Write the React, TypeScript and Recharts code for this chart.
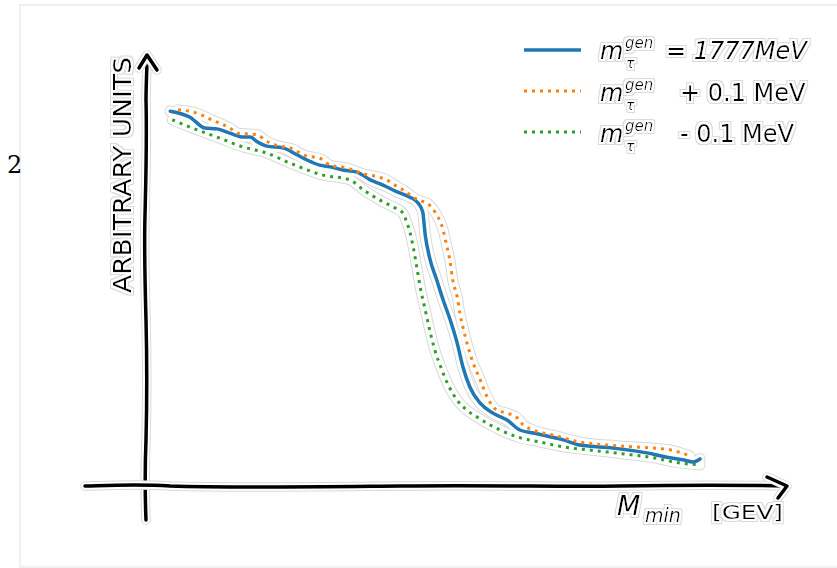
import React from "react";
import { LineChart, Line, XAxis, YAxis, Customized } from "recharts";

// M_min (arbitrary units, 0-100) vs. distribution height (arbitrary units, 0-100)
const NOMINAL: [number, number][] = [
  [3.8, 87.0], [6.9, 85.6], [9.2, 83.1], [11.1, 82.9], [13.1, 81.9], [15.2, 81.0],
  [16.3, 81.0], [17.4, 79.9], [18.9, 78.9], [21.4, 78.5], [23.6, 76.9], [25.2, 75.7],
  [27.2, 74.5], [28.8, 74.1], [30.8, 73.4], [33.0, 72.9], [35.1, 71.1], [37.1, 69.9],
  [39.3, 68.3], [41.3, 67.1], [42.6, 65.7], [43.3, 63.7], [43.7, 58.3], [44.4, 53.0],
  [45.5, 47.9], [46.5, 43.3], [47.6, 38.7], [48.7, 33.3], [49.6, 27.8], [50.7, 23.1],
  [52.3, 19.4], [54.3, 17.1], [56.5, 15.5], [58.5, 13.2], [60.6, 12.5], [65.3, 10.9],
  [67.9, 9.7], [73.1, 9.0], [78.4, 7.9], [81.5, 6.9], [84.0, 6.3], [85.6, 5.8], [86.7, 6.5],
];

const PLUS: [number, number][] = [
  [5.0, 87.3], [7.4, 86.8], [10.3, 85.0], [13.1, 83.1], [14.4, 81.9], [16.3, 81.7],
  [17.5, 81.5], [18.6, 80.3], [20.2, 79.2], [23.0, 78.2], [24.6, 76.9], [27.5, 75.9],
  [28.8, 74.5], [31.6, 73.8], [33.5, 72.7], [36.2, 71.8], [37.7, 71.1], [38.7, 70.1],
  [40.2, 68.8], [42.6, 66.4], [44.0, 65.7], [45.2, 63.7], [46.5, 59.5], [47.1, 55.6],
  [47.6, 52.1], [48.0, 47.9], [48.7, 44.0], [49.1, 40.3], [49.6, 37.0], [50.4, 32.4],
  [51.2, 28.7], [52.3, 24.8], [53.4, 20.8], [54.9, 17.8], [56.5, 17.1], [58.1, 16.0],
  [59.0, 14.4], [60.6, 13.2], [62.1, 12.5], [63.7, 12.0], [67.9, 10.4], [74.2, 9.5],
  [82.0, 8.6], [85.1, 7.2],
];

const MINUS: [number, number][] = [
  [4.1, 85.0], [6.9, 83.3], [11.1, 81.0], [15.2, 78.7], [18.9, 77.3], [22.5, 75.0],
  [27.7, 72.2], [31.9, 71.1], [34.0, 68.8], [37.1, 66.0], [39.0, 64.6], [40.2, 63.4],
  [40.8, 61.3], [41.3, 59.0], [41.9, 54.9], [42.4, 50.7], [43.0, 45.6], [43.7, 41.0],
  [44.4, 36.3], [45.2, 31.7], [46.2, 27.5], [47.3, 23.6], [48.7, 20.1], [50.2, 17.8],
  [51.8, 16.2], [53.8, 14.4], [55.4, 13.2], [58.1, 11.6], [61.7, 10.4], [65.3, 9.3],
  [71.0, 8.3], [76.2, 7.4], [79.7, 6.7], [82.5, 5.8], [86.7, 5.1],
];

const LEGEND_TAILS = ["= 1777MeV", "+ 0.1 MeV", "- 0.1 MeV"];

const toRows = (pts: [number, number][]) => pts.map(([x, y]) => ({ x, y }));

const SERIES = [
  { key: "nominal", data: toRows(NOMINAL), color: "#1f77b4", dash: undefined, width: 3.5, italicTail: true },
  { key: "plus", data: toRows(PLUS), color: "#ff7f0e", dash: "3 5", width: 3, italicTail: false },
  { key: "minus", data: toRows(MINUS), color: "#2ca02c", dash: "3 5", width: 3, italicTail: false },
];

const FONT = "'DejaVu Sans', sans-serif";

// white halo with a faint grey rim, xkcd style
function HaloDefs() {
  return (
    <defs>
      <filter id="halo" x="-30%" y="-60%" width="160%" height="220%">
        <feMorphology in="SourceAlpha" operator="dilate" radius={3} result="outer" />
        <feFlood floodColor="#d9d9d9" />
        <feComposite in2="outer" operator="in" result="rim" />
        <feMorphology in="SourceAlpha" operator="dilate" radius={2.2} result="inner" />
        <feFlood floodColor="#ffffff" />
        <feComposite in2="inner" operator="in" result="white" />
        <feMerge>
          <feMergeNode in="rim" />
          <feMergeNode in="white" />
          <feMergeNode in="SourceGraphic" />
        </feMerge>
      </filter>
    </defs>
  );
}

function HaloPath({ d, width = 3.5 }: { d: string; width?: number }) {
  return (
    <g fill="none" strokeLinecap="round" strokeLinejoin="round">
      <path d={d} stroke="#d9d9d9" strokeWidth={width + 6} />
      <path d={d} stroke="#fff" strokeWidth={width + 4} />
      <path d={d} stroke="#000" strokeWidth={width} />
    </g>
  );
}

function Decor() {
  // hand-drawn spines with arrow heads
  const yAxis = "M146,520 C145,495 145,465 146,440 C147,400 147,360 146,320 C145,280 144,250 145,215 C146,175 147,140 146,100 C146,85 147,70 147,57";
  const yArrow = "M139,68 L147,55 L157,70";
  const xAxis = "M85,486 C120,485 140,484 170,486 C230,488 300,487 400,486 C500,485 560,487 620,486 C680,485 740,485 785,486";
  const xArrow = "M767,477 L787,486 L778,498";
  return (
    <g>
      <HaloDefs />
      <rect x={20} y={5} width={830} height={562} fill="none" stroke="#e2e2e2" strokeWidth={1} />
      <text x={7} y={173} fontFamily="'DejaVu Serif', serif" fontSize={24} fill="#000">2</text>
      <HaloPath d={yAxis} />
      <HaloPath d={yArrow} />
      <HaloPath d={xAxis} />
      <HaloPath d={xArrow} />
      <text
        x={0} y={0} transform="translate(131,175) rotate(-90)" textAnchor="middle" filter="url(#halo)"
        fontFamily={FONT} fontSize={24} textLength={236} lengthAdjust="spacingAndGlyphs" fill="#000"
      >
        ARBITRARY UNITS
      </text>
      <text x={617} y={515} filter="url(#halo)" fontFamily={FONT} fontStyle="italic" fontSize={27} fill="#000">M</text>
      <text x={645} y={522} filter="url(#halo)" fontFamily={FONT} fontStyle="italic" fontSize={19} fill="#000">min</text>
      <text x={712} y={519} filter="url(#halo)" fontFamily={FONT} fontSize={20} textLength={71}
        lengthAdjust="spacingAndGlyphs" fill="#000">
        [GEV]
      </text>
    </g>
  );
}

function LegendBox() {
  const rowY = [50, 91, 132];
  const base = [58.5, 100.5, 142];
  return (
    <g>
      {SERIES.map((s, i) => (
        <g key={s.key}>
          <line x1={524} x2={581} y1={rowY[i]} y2={rowY[i]} stroke={s.color} strokeWidth={s.width}
            strokeDasharray={s.dash} />
          <text x={600} y={base[i]} filter="url(#halo)" fontFamily={FONT} fontStyle="italic" fontSize={24} fill="#000">m</text>
          <text x={625} y={base[i] - 11} filter="url(#halo)" fontFamily={FONT} fontStyle="italic" fontSize={15} fill="#000">gen</text>
          <text x={626} y={base[i] + 9} filter="url(#halo)" fontFamily={FONT} fontStyle="italic" fontSize={14} fill="#000">τ</text>
          <text x={i === 0 ? 666 : 680} y={base[i]} filter="url(#halo)" fontFamily={FONT} fontSize={24}
            fontStyle={s.italicTail ? "italic" : "normal"} fill="#000">
            {LEGEND_TAILS[i]}
          </text>
        </g>
      ))}
    </g>
  );
}

const lineProps = { dataKey: "y", type: "monotoneX" as const, dot: false, activeDot: false, isAnimationActive: false,
  strokeLinejoin: "round" as const };

export default function App() {
  return (
    <div style={{ position: "absolute", left: 0, top: 0, width: 837, height: 568, background: "#fff" }}>
      <LineChart width={837} height={568} margin={{ top: 55, right: 52, bottom: 81, left: 146 }}>
        <XAxis dataKey="x" type="number" domain={[0, 100]} hide />
        <YAxis type="number" domain={[0, 100]} hide />
        <Customized component={Decor} />
        {/* shared halo band under all three curves */}
        {SERIES.map((s) => (
          <Line key={s.key + "-rim"} {...lineProps} data={s.data} stroke="#d9d9d9"
            strokeWidth={s.width + 8} strokeLinecap="round" />
        ))}
        {SERIES.map((s) => (
          <Line key={s.key + "-halo"} {...lineProps} data={s.data} stroke="#fff"
            strokeWidth={s.width + 6} strokeLinecap="round" />
        ))}
        {SERIES.map((s) => (
          <Line key={s.key} {...lineProps} data={s.data} stroke={s.color} strokeWidth={s.width}
            strokeDasharray={s.dash} strokeLinecap={s.dash ? "butt" : "round"} />
        ))}
        <Customized component={LegendBox} />
      </LineChart>
    </div>
  );
}
